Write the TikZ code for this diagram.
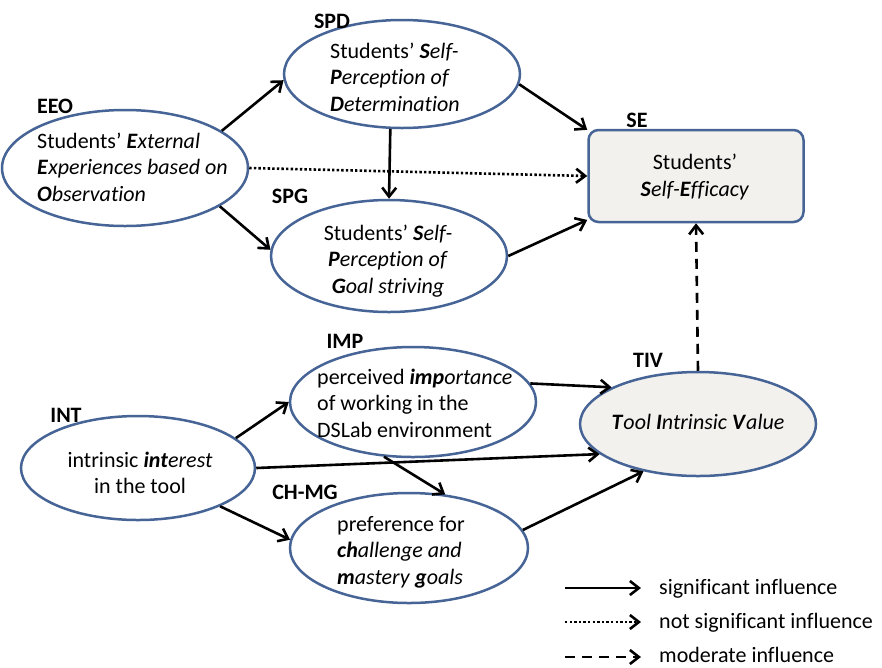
\documentclass[tikz,border=0pt]{standalone}
\usepackage{fontspec}
\setmainfont{Carlito}[Ligatures=NoCommon]
\usetikzlibrary{shapes.geometric,arrows.meta,calc}
\definecolor{ellc}{RGB}{70,100,150}
\definecolor{gfill}{RGB}{243,241,238}
\newcommand{\bi}[1]{\textbf{\textit{#1}}}
\begin{document}
\begin{tikzpicture}[x=1pt,y=-1pt,
  ell/.style={ellipse, draw=ellc, line width=2.5pt, fill=white, inner sep=0pt},
  txt/.style={font=\fontsize{22}{26.5}\selectfont, inner sep=0pt},
  lbl/.style={font=\fontsize{22}{26}\selectfont\bfseries, inner sep=0pt},
  arr/.style={line width=2.6pt, -{Straight Barb[length=9pt,width=14pt]}},
  dotl/.style={arr, dash pattern=on 2.4pt off 2.2pt},
  dashl/.style={arr, dash pattern=on 10pt off 7pt}]
\useasboundingbox (0,0) rectangle (882,667);

% nodes
\node[ell, minimum width=246pt, minimum height=116pt] (eeo) at (125,168) {};
\node[txt, anchor=west, align=left] (eeot) at (37,167) {Students’ \bi{E}\textit{xternal}\\\bi{E}\textit{xperiences based on}\\\bi{O}\textit{bservation}};
\node[lbl] (eeol) at (55,106) {EEO};

\node[ell, minimum width=236pt, minimum height=108pt] (spd) at (402,74) {};
\node[txt, anchor=west, align=left] (spdt) at (330,77) {Students’ \bi{S}\textit{elf-}\\\bi{P}\textit{erception of}\\\bi{D}\textit{etermination}};
\node[lbl] (spdl) at (332,21) {SPD};

\node[ell, minimum width=236pt, minimum height=112pt] (spg) at (389,256) {};
\node[txt, align=center] (spgt) at (388,261) {Students’ \bi{S}\textit{elf-}\\\bi{P}\textit{erception of}\\\bi{G}\textit{oal striving}};
\node[lbl] (spgl) at (290,196) {SPG};

\node[draw=ellc, line width=2.5pt, fill=gfill, rounded corners=10pt, minimum width=215pt, minimum height=92pt, inner sep=0pt] (se) at (696,176) {};
\node[txt, align=center] (set) at (695,177) {Students’\\\bi{S}\textit{elf-}\bi{E}\textit{fficacy}};
\node[lbl] (sel) at (637,120) {SE};

\node[ell, minimum width=246pt, minimum height=110pt] (imp) at (413,402) {};
\node[txt, anchor=west, align=left] (impt) at (317,403) {perceived \bi{imp}\textit{ortance}\\of working in the\\DSLab environment};
\node[lbl] (impl) at (345,341) {IMP};

\node[ell, minimum width=234pt, minimum height=104pt] (int) at (138,468) {};
\node[txt, align=center] (intt) at (140,473) {intrinsic \bi{int}\textit{erest}\\in the tool};
\node[lbl] (intl) at (66,415) {INT};

\node[ell, minimum width=238pt, minimum height=110pt] (chmg) at (409,548) {};
\node[txt, anchor=west, align=left] (chmgt) at (337,552) {preference for\\\bi{ch}\textit{allenge and}\\\bi{m}\textit{astery} \bi{g}\textit{oals}};
\node[lbl] (chmgl) at (305,492) {CH-MG};

\node[ell, fill=gfill, minimum width=236pt, minimum height=104pt] (tiv) at (698,424) {};
\node[txt] (tivt) at (698,422) {\bi{T}\textit{ool} \bi{I}\textit{ntrinsic} \bi{V}\textit{alue}};
\node[lbl] (tivl) at (648,360) {TIV};

% connectors
\draw[arr] (eeo.21) -- (spd.183);
\draw[arr] (eeo.338) -- (spg.177);
\draw[dotl] (eeo.0) -- (se.west);
\draw[arr] (spd.355) -- (se.157);
\draw[arr] (spd.258) -- (spg.north);
\draw[arr] (spg.0) -- (se.202);
\draw[dashl] (tiv.north) -- (se.south);
\draw[arr] (int.17) -- (imp.180);
\draw[arr] (int.0) -- (tiv.197);
\draw[arr] (imp.9) -- (tiv.157);
\draw[arr] (imp.242) -- (chmg.56);
\draw[arr] (int.335) -- (chmg.176);
\draw[arr] (chmg.9) -- (tiv.221);

% legend
\coordinate (l1a) at (565,588); \coordinate (l1b) at (641,588);
\coordinate (l2a) at (565,622); \coordinate (l2b) at (641,622);
\coordinate (l3a) at (565,657); \coordinate (l3b) at (641,657);
\draw[arr] (l1a) -- (l1b);
\draw[dotl] (l2a) -- (l2b);
\draw[dashl] (l3a) -- (l3b);
\node[txt, anchor=base west] (lt1) at (659,594) {significant influence};
\node[txt, anchor=base west] (lt2) at (659,628) {not significant influence};
\node[txt, anchor=base west] (lt3) at (659,662) {moderate influence};
\end{tikzpicture}
\end{document}
